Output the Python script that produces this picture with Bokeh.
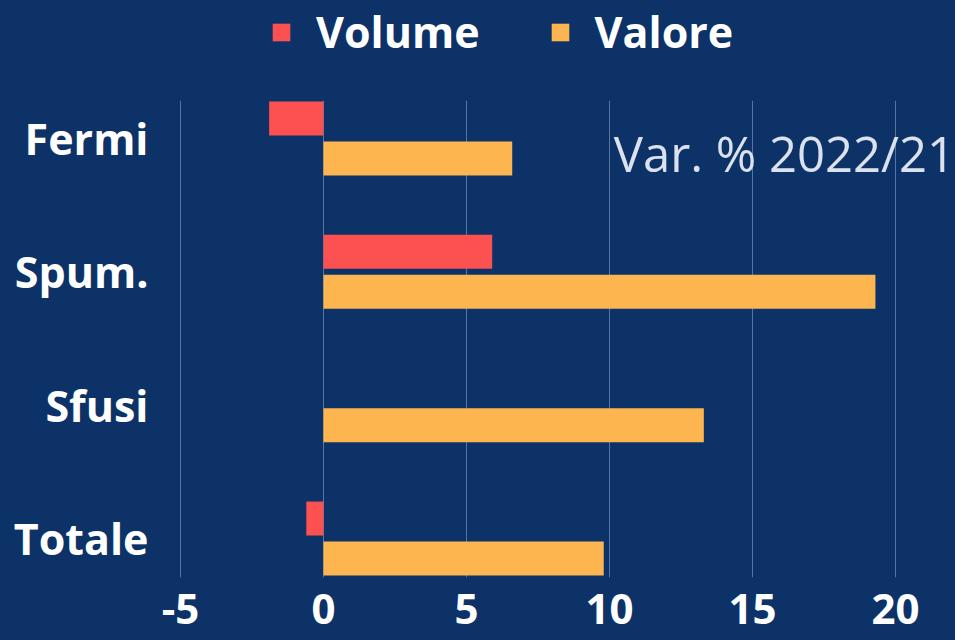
from bokeh.plotting import figure
from bokeh.layouts import column
from bokeh.models import ColumnDataSource, FixedTicker, Legend, LegendItem, Label, Range1d
from bokeh.embed import file_html
from bokeh.resources import INLINE

# ---- data ----
categories = ["Fermi", "Spum.", "Sfusi", "Totale"]
volume = [-1.9, 5.9, 0.0, -0.6]
valore = [6.6, 19.3, 13.3, 9.8]
x_ticks = [-5, 0, 5, 10, 15, 20]
x_tick_labels = ["-5", "0", "5", "10", "15", "20"]
series_names = ["Volume", "Valore"]
note = "Var. % 2022/21"

BG = "#0c3268"
RED = "#fb5150"
ORANGE = "#fdb64f"
FONT = "Open Sans"

n = len(categories)
pos = [n - 1 - i for i in range(n)]
off = 0.15
bh = 0.255

src_vol = ColumnDataSource(dict(y=[p + off for p in pos], right=volume))
src_val = ColumnDataSource(dict(y=[p - off for p in pos], right=valore))

# ---- legend strip (top); its ranges lie away from the data so only the legend shows ----
lg = figure(width=955, height=100, output_backend="svg", toolbar_location=None,
            x_range=Range1d(1000, 1001), y_range=Range1d(1000, 1001),
            x_axis_type=None, y_axis_type=None,
            min_border=0, outline_line_color=None,
            background_fill_color=None, border_fill_color=None)
lg.xgrid.visible = False
lg.ygrid.visible = False
e1 = lg.hbar(y="y", right="right", left=0, height=bh, source=src_vol, fill_color=RED, line_color=None)
e2 = lg.hbar(y="y", right="right", left=0, height=bh, source=src_val, fill_color=ORANGE, line_color=None)
legend = Legend(items=[LegendItem(label=series_names[0], renderers=[e1]),
                       LegendItem(label=series_names[1], renderers=[e2])],
                orientation="horizontal", location=(107, 39),
                background_fill_alpha=0, border_line_color=None,
                label_text_color="white", label_text_font=FONT, label_text_font_style="bold",
                label_text_font_size="43px", glyph_width=22, glyph_height=22,
                label_standoff=24, spacing=69, padding=0, margin=0)
lg.add_layout(legend, "center")

# ---- main chart ----
p = figure(width=955, height=540, output_backend="svg", toolbar_location=None,
           x_range=Range1d(-5.594, 22.1), y_range=Range1d(-0.292, 3.285),
           min_border_left=163, min_border_right=0, min_border_top=0, min_border_bottom=63,
           outline_line_color=None, background_fill_color=None, border_fill_color=None)

r1 = p.hbar(y="y", right="right", left=0, height=bh, source=src_vol, fill_color=RED, line_color=None)
r2 = p.hbar(y="y", right="right", left=0, height=bh, source=src_val, fill_color=ORANGE, line_color=None)

p.xaxis.ticker = FixedTicker(ticks=x_ticks)
p.xaxis.major_label_overrides = {t: s for t, s in zip(x_ticks, x_tick_labels)}
p.yaxis.ticker = FixedTicker(ticks=pos)
p.yaxis.major_label_overrides = {pp: c for pp, c in zip(pos, categories)}

for ax in (p.xaxis[0], p.yaxis[0]):
    ax.axis_line_color = None
    ax.major_tick_line_color = None
    ax.minor_tick_line_color = None
    ax.major_label_text_color = "white"
    ax.major_label_text_font = FONT
    ax.major_label_text_font_style = "bold"
p.xaxis.major_label_text_font_size = "42px"
p.yaxis.major_label_text_font_size = "43px"
p.xaxis.major_label_standoff = 10
p.yaxis.major_label_standoff = 9

p.xgrid.grid_line_color = "#5a74a2"
p.xgrid.grid_line_width = 1
p.ygrid.grid_line_color = None

p.add_layout(Label(x=10.15, y=2.895, text=note, text_font=FONT, text_font_size="49px",
                   text_color="#dbe2ee", text_baseline="alphabetic", text_align="left"))

layout = column(lg, p, spacing=0)
html = file_html(layout, INLINE)
style = ("<style>html, body { background-color: %s !important; margin: 0 !important; "
         "overflow: hidden !important; }</style>" % BG)
html = html.replace("</head>", style + "</head>", 1)
open("out.html", "w").write(html)
